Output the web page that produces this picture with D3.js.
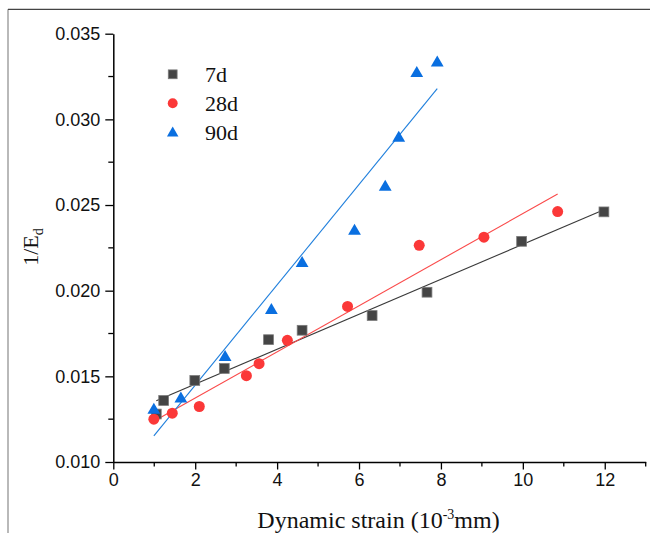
<!DOCTYPE html>
<html>
<head>
<meta charset="utf-8">
<script src="https://cdn.jsdelivr.net/npm/d3@7"></script>
<style>
  body { margin: 0; background: #fff; }
  svg { display: block; }
</style>
</head>
<body>
<svg id="chart" width="650" height="533"></svg>
<script>
"use strict";

// dynamic strain (10^-3 mm) vs 1/Ed
const x7d = [1.05, 1.23, 1.99, 2.71, 3.79, 4.61, 6.32, 7.66, 9.97, 11.98];
const y7d = [0.0128, 0.01359, 0.01476, 0.01546, 0.01714, 0.01769, 0.01855, 0.01991, 0.02288, 0.0246];

const x28d = [0.99, 1.44, 2.1, 3.25, 3.56, 4.25, 5.72, 7.47, 9.05, 10.85];
const y28d = [0.0125, 0.01285, 0.01324, 0.01504, 0.01574, 0.0171, 0.01908, 0.02265, 0.02312, 0.02462];

const x90d = [0.99, 1.65, 2.73, 3.86, 4.61, 5.89, 6.64, 6.97, 7.41, 7.91];
const y90d = [0.01314, 0.01379, 0.01622, 0.01896, 0.02171, 0.02358, 0.02616, 0.02901, 0.03279, 0.0334];

const seriesNames = ["7d", "28d", "90d"];
const xTicks = [0, 2, 4, 6, 8, 10, 12];
const yTicks = [0.010, 0.015, 0.020, 0.025, 0.030, 0.035];

const colors = {
  "7d": { fill: "#454545", stroke: "#7a7a7a", line: "#3a3a3a" },
  "28d": { fill: "#fb3838", stroke: "none", line: "#fa4a4a" },
  "90d": { fill: "#0a6fe0", stroke: "none", line: "#1f7fdc" }
};

const series = [
  { name: "7d", xs: x7d, ys: y7d },
  { name: "28d", xs: x28d, ys: y28d },
  { name: "90d", xs: x90d, ys: y90d }
];

const svg = d3.select("#chart");
const sans = "'Liberation Sans', Arial, sans-serif";
const serif = "'Liberation Serif', 'Times New Roman', serif";

const x = d3.scaleLinear().domain([0, 13]).range([113.3, 645.7]);
const y = d3.scaleLinear().domain([0.010, 0.035]).range([462, 33.7]);

// picture frame (left + top edge only visible)
svg.append("line").attr("x1", 8).attr("x2", 8).attr("y1", 9.3).attr("y2", 533)
  .attr("stroke", "#8a8a8a").attr("stroke-width", 1.2);
svg.append("line").attr("x1", 8).attr("x2", 650).attr("y1", 9.3).attr("y2", 9.3)
  .attr("stroke", "#444").attr("stroke-width", 1.2);

// minor ticks
const xMinor = d3.range(1, 14, 2);
const yMinor = d3.range(0.0125, 0.035, 0.005);

const xAxis = svg.append("g").attr("transform", `translate(0,${y(0.010)})`);
xAxis.selectAll("line.minor").data(xMinor).enter().append("line")
  .attr("x1", (d) => x(d)).attr("x2", (d) => x(d)).attr("y1", 0).attr("y2", 4.5)
  .attr("stroke", "#000").attr("stroke-width", 1.3);
xAxis.call(d3.axisBottom(x).tickValues(xTicks).tickSize(7.5).tickPadding(4).tickSizeOuter(0)
  .tickFormat(d3.format("d")));

const yAxis = svg.append("g").attr("transform", `translate(${x(0)},0)`);
yAxis.selectAll("line.minor").data(yMinor).enter().append("line")
  .attr("x1", 0).attr("x2", -5).attr("y1", (d) => y(d)).attr("y2", (d) => y(d))
  .attr("stroke", "#000").attr("stroke-width", 1.3);
yAxis.call(d3.axisLeft(y).tickValues(yTicks).tickSize(8).tickPadding(5).tickSizeOuter(0)
  .tickFormat(d3.format(".3f")));

svg.selectAll(".domain").attr("stroke", "#000").attr("stroke-width", 1.5);
svg.selectAll(".tick line").attr("stroke", "#000").attr("stroke-width", 1.3);
svg.selectAll(".tick text").attr("font-family", sans).attr("font-size", 18).attr("fill", "#111");

// linear fits
const fit = (xs, ys) => {
  const mx = d3.mean(xs);
  const my = d3.mean(ys);
  let sxy = 0;
  let sxx = 0;
  xs.forEach((v, i) => {
    sxy += (v - mx) * (ys[i] - my);
    sxx += (v - mx) * (v - mx);
  });
  const b = sxy / sxx;
  return (v) => my + b * (v - mx);
};

series.forEach((s) => {
  const f = fit(s.xs, s.ys);
  const x0 = d3.min(s.xs);
  const x1 = d3.max(s.xs);
  svg.append("line")
    .attr("x1", x(x0)).attr("y1", y(f(x0)))
    .attr("x2", x(x1)).attr("y2", y(f(x1)))
    .attr("stroke", colors[s.name].line).attr("stroke-width", 1.1);
});

// markers
const drawMarker = (g, name, cx, cy, scale) => {
  const c = colors[name];
  if (name === "7d") {
    const h = 4.9 * scale;
    g.append("rect").attr("x", cx - h).attr("y", cy - h).attr("width", 2 * h).attr("height", 2 * h)
      .attr("fill", c.fill).attr("stroke", c.stroke).attr("stroke-width", 0.8);
  } else if (name === "28d") {
    g.append("circle").attr("cx", cx).attr("cy", cy).attr("r", 5.5 * scale).attr("fill", c.fill);
  } else {
    const w = 6.4 * scale;
    const h = 5.5 * scale;
    g.append("path")
      .attr("d", `M${cx},${cy - h}L${cx + w},${cy + h}L${cx - w},${cy + h}Z`)
      .attr("fill", c.fill);
  }
};

const marks = svg.append("g");
series.forEach((s) => {
  s.xs.forEach((v, i) => drawMarker(marks, s.name, x(v), y(s.ys[i]), 1));
});

// legend
const legend = svg.append("g");
const legendY = [74.3, 103.3, 131.5];
seriesNames.forEach((n, i) => {
  drawMarker(legend, n, 172.7, legendY[i], 0.9);
  legend.append("text").attr("x", 205).attr("y", legendY[i] + 8)
    .attr("font-family", serif).attr("font-size", 22).attr("fill", "#111").text(n);
});

// axis titles
const xt = svg.append("text").attr("x", 378.5).attr("y", 528)
  .attr("text-anchor", "middle").attr("font-family", serif).attr("font-size", 24).attr("fill", "#111");
xt.append("tspan").text("Dynamic strain (10");
xt.append("tspan").attr("font-size", 14).attr("dy", -9).text("-3");
xt.append("tspan").attr("dy", 9).text("mm)");

const yt = svg.append("text").attr("transform", "translate(38,247) rotate(-90)")
  .attr("text-anchor", "middle").attr("font-family", serif).attr("font-size", 22).attr("fill", "#111");
yt.append("tspan").text("1/E");
yt.append("tspan").attr("font-size", 14).attr("dy", 5).text("d");
</script>
</body>
</html>
